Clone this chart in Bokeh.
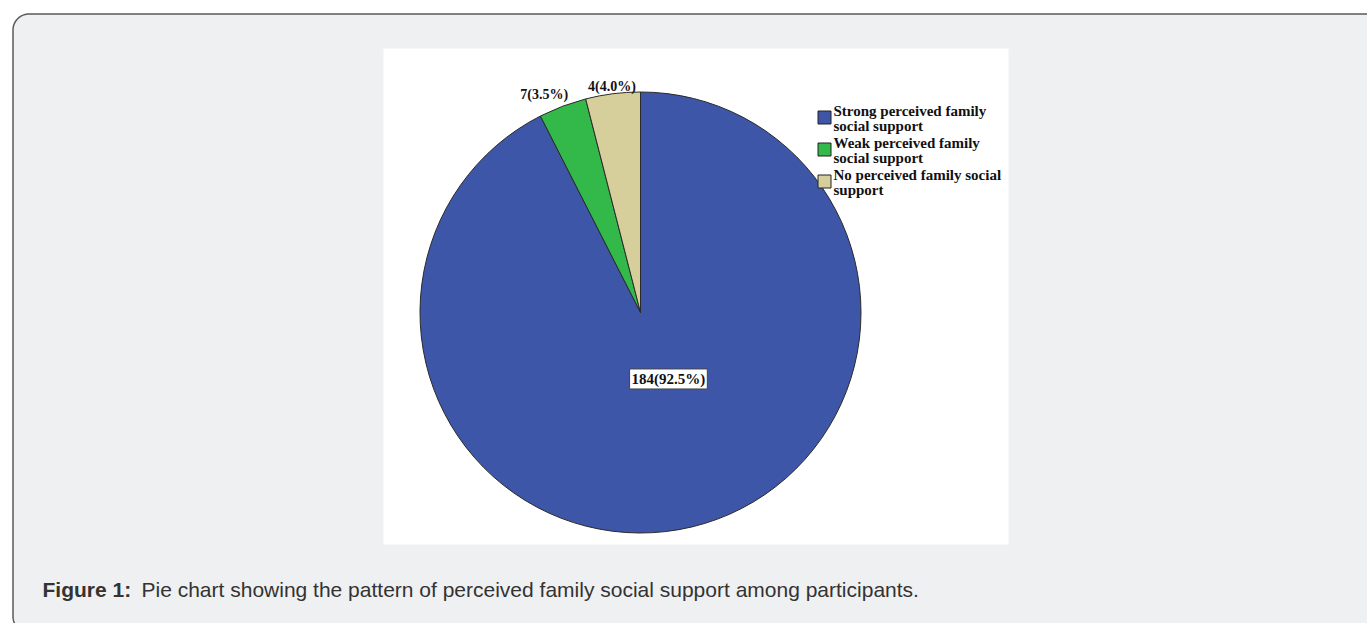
import numpy as np
from bokeh.plotting import figure
from bokeh.models import Range1d
from bokeh.core.properties import value
from bokeh.embed import file_html
from bokeh.resources import INLINE

# ---------------- data ----------------
categories = ["Strong perceived family social support",
              "Weak perceived family social support",
              "No perceived family social support"]
legend_lines = [["Strong perceived family", "social support"],
                ["Weak perceived family", "social support"],
                ["No perceived family social", "support"]]
counts = [184, 7, 4]
percents = [92.5, 3.5, 4.0]
colors = ["#3d56a8", "#33b84a", "#d6cf9b"]
caption_bold = "Figure 1:"
caption_text = "Pie chart showing the pattern of perceived family social support among participants."

# ---------------- figure (data units = page pixels) ----------------
W, H = 1367, 623
PAGE_H = 623


def Y(py):
    return PAGE_H - np.asarray(py, dtype=float)


p = figure(width=W, height=H, output_backend="svg", toolbar_location=None,
           x_range=Range1d(0, W), y_range=Range1d(0, H),
           x_axis_location=None, y_axis_location=None, min_border=0)
p.grid.visible = False
p.outline_line_color = None
p.background_fill_color = "white"
p.border_fill_color = "white"

# rounded panel
L, T, R_, B, rad = 12.5, 13.5, 1420, 632, 16
t1 = np.linspace(np.pi, np.pi / 2, 20)
t2 = np.linspace(3 * np.pi / 2, np.pi, 20)
xs = list(L + rad + rad * np.cos(t1)) + [R_, R_] + list(L + rad + rad * np.cos(t2))
ys = list(T + rad - rad * np.sin(t1)) + [T, B] + list(B - rad - rad * np.sin(t2))
p.patch(xs, list(Y(ys)), fill_color="#eff0f2", line_color="#5a5a5a", line_width=1.5)

# white chart image area
p.quad(left=383, right=1008, top=float(Y(48)), bottom=float(Y(544)),
       fill_color="white", line_color=None)

# ---------------- pie ----------------
cx, cy_page, r = 640, 312, 220.5
cy = float(Y(cy_page))
fr = np.array(percents) / np.sum(percents)
cum_end = np.cumsum(fr)
cum_start = cum_end - fr
start = np.pi / 2 - cum_end * 2 * np.pi
end = np.pi / 2 - cum_start * 2 * np.pi
p.wedge(x=cx, y=cy, radius=r, start_angle=list(start), end_angle=list(end),
        fill_color=colors, line_color="#2a2a2a", line_width=1)

labels = [f"{c}({pc:.1f}%)" for c, pc in zip(counts, percents)]
mid = (cum_start + cum_end) / 2 * 2 * np.pi   # clockwise from top

# inside label for big slice
rr = 0.31 * r
p.text(x=[cx + rr * np.sin(mid[0]) + 12], y=[cy + rr * np.cos(mid[0])], text=[labels[0]],
       text_font=value("Liberation Serif"), text_font_style="bold", text_font_size="15px",
       text_color="#111111", text_align="center", text_baseline="middle",
       background_fill_color="white", border_line_color="#444444", border_line_width=1,
       padding=2)

# outside labels for small slices
ro = [0, 233, 228]
xoff = [0, -14, 0]
for i in (1, 2):
    p.text(x=[cx + ro[i] * np.sin(mid[i]) + xoff[i]], y=[cy + ro[i] * np.cos(mid[i])],
           text=[labels[i]], text_font=value("Liberation Serif"), text_font_style="bold",
           text_font_size="14px", text_color="#111111", text_align="center",
           text_baseline="middle")

# ---------------- legend ----------------
leg_x, leg_y0, step = 824, 117, 32
for i, lines in enumerate(legend_lines):
    yc = leg_y0 + i * step
    p.rect(x=[leg_x], y=[float(Y(yc))], width=13, height=13,
           fill_color=colors[i], line_color="#222222", line_width=1)
    p.text(x=[leg_x + 9, leg_x + 9], y=list(Y([yc - 7, yc + 8])), text=lines,
           text_font=value("Liberation Serif"), text_font_style="bold",
           text_font_size="15px", text_color="#111111", text_align="left",
           text_baseline="middle")

# ---------------- caption ----------------
p.text(x=[42], y=[float(Y(589))], text=[caption_bold], text_font=value("Liberation Sans"),
       text_font_style="bold", text_font_size="21px", text_color="#333333",
       text_align="left", text_baseline="alphabetic")
p.text(x=[141], y=[float(Y(589))], text=[caption_text], text_font=value("Liberation Sans"),
       text_font_size="21px", text_color="#333333",
       text_align="left", text_baseline="alphabetic")

open("out.html", "w").write(file_html(p, INLINE))
